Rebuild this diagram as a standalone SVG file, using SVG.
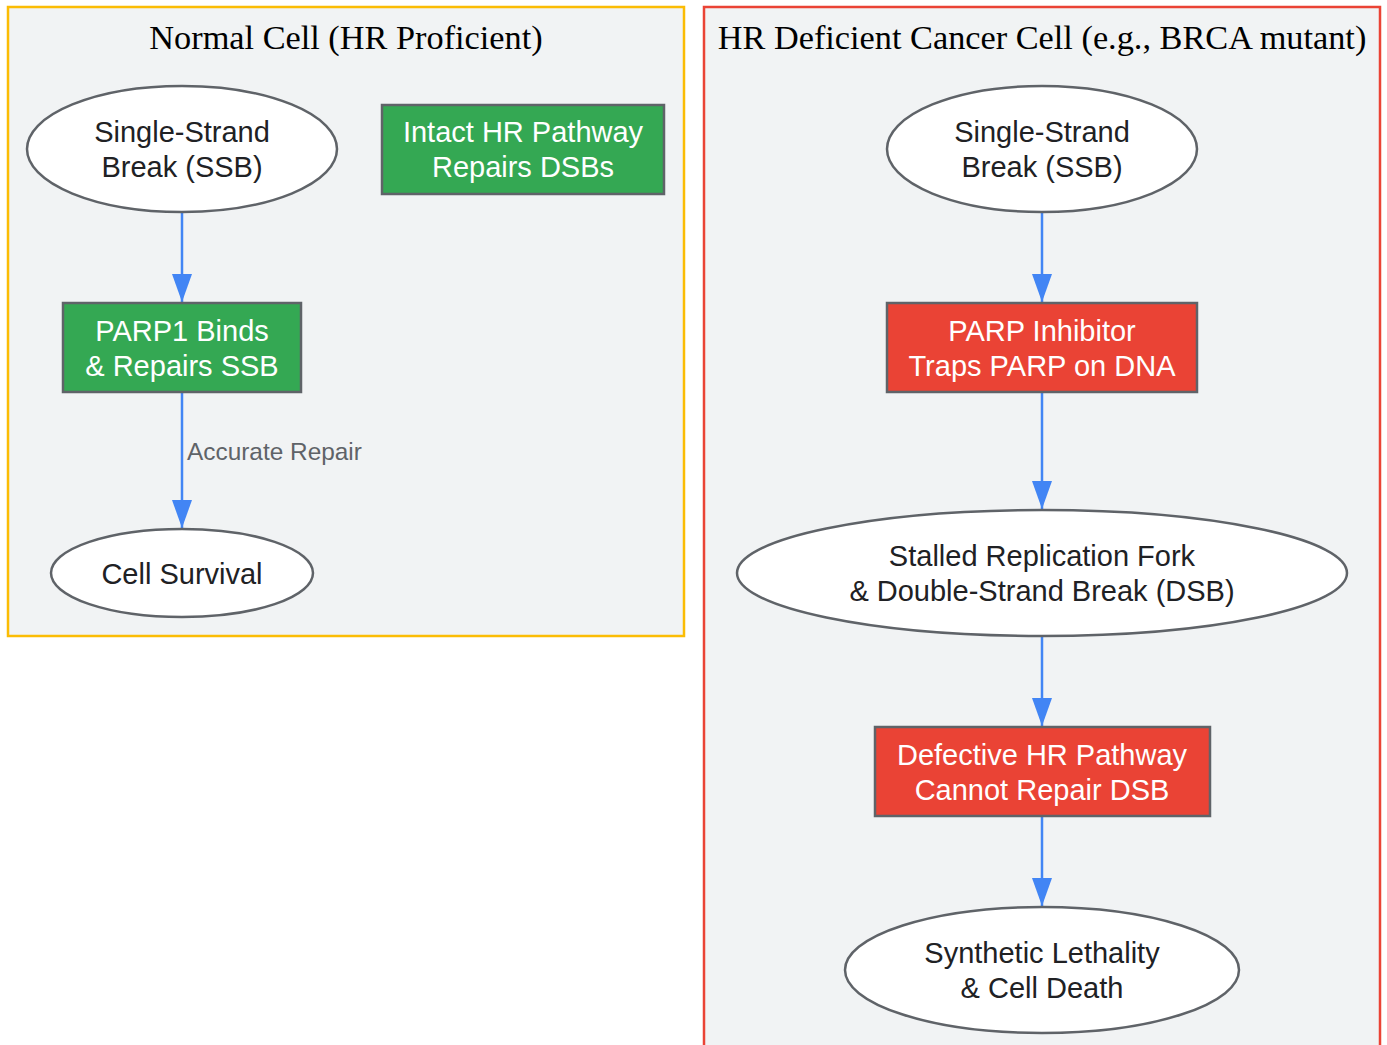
<svg xmlns="http://www.w3.org/2000/svg" width="1387" height="1045" viewBox="0 0 1387 1045">
<style>
.title{font-family:"Liberation Serif","Times New Roman",serif;font-size:34.3px;fill:#000;text-anchor:middle}
.lbl{font-family:"Liberation Sans",Arial,sans-serif;font-size:29px;text-anchor:middle}
.dark{fill:#202124}
.light{fill:#ffffff}
.ell{fill:#ffffff;stroke:#5f6368;stroke-width:2.5}
.green{fill:#34a853;stroke:#5f6368;stroke-width:2.5}
.red{fill:#ea4335;stroke:#5f6368;stroke-width:2.5}
.edge{stroke:#4285f4;stroke-width:2.5;fill:none;marker-end:url(#arr)}
.elbl{font-family:"Liberation Sans",Arial,sans-serif;font-size:24.4px;fill:#5f6368}
</style>
<defs>
<marker id="arr" viewBox="0 0 28 20" refX="28" refY="10" markerWidth="28" markerHeight="20" markerUnits="userSpaceOnUse" orient="auto">
<path d="M0,0 L28,10 L0,20 Z" fill="#4285f4"/>
</marker>
</defs>
<rect width="1387" height="1045" fill="#ffffff"/>
<g id="cluster-normal">
<rect x="8" y="7" width="676" height="629" fill="#f1f3f4" stroke="#fbbc04" stroke-width="2.5"/>
<text class="title" x="346" y="49">Normal Cell (HR Proficient)</text>
</g>
<g id="cluster-cancer">
<rect x="704" y="7" width="676" height="1050" fill="#f1f3f4" stroke="#ea4335" stroke-width="2.5"/>
<text class="title" x="1042" y="49">HR Deficient Cancer Cell (e.g., BRCA mutant)</text>
</g>
<g id="connectors">
<line class="edge" x1="182" y1="212" x2="182" y2="302"/>
<line class="edge" x1="182" y1="392" x2="182" y2="528"/>
<text class="elbl" x="187" y="460">Accurate Repair</text>
<line class="edge" x1="1042" y1="212" x2="1042" y2="302"/>
<line class="edge" x1="1042" y1="392" x2="1042" y2="509"/>
<line class="edge" x1="1042" y1="636" x2="1042" y2="726"/>
<line class="edge" x1="1042" y1="816" x2="1042" y2="906"/>
</g>
<g id="n-ssb-normal">
<ellipse class="ell" cx="182" cy="149" rx="155" ry="63"/>
<text class="lbl dark" x="182" y="142">Single-Strand</text>
<text class="lbl dark" x="182" y="177">Break (SSB)</text>
</g>
<g id="n-hr-intact">
<rect class="green" x="382" y="105" width="282" height="89"/>
<text class="lbl light" x="523" y="142">Intact HR Pathway</text>
<text class="lbl light" x="523" y="177">Repairs DSBs</text>
</g>
<g id="n-parp1">
<rect class="green" x="63" y="303" width="238" height="89"/>
<text class="lbl light" x="182" y="341">PARP1 Binds</text>
<text class="lbl light" x="182" y="376">&amp; Repairs SSB</text>
</g>
<g id="n-survival">
<ellipse class="ell" cx="182" cy="573" rx="131" ry="44"/>
<text class="lbl dark" x="182" y="584">Cell Survival</text>
</g>
<g id="n-ssb-cancer">
<ellipse class="ell" cx="1042" cy="149" rx="155" ry="63"/>
<text class="lbl dark" x="1042" y="142">Single-Strand</text>
<text class="lbl dark" x="1042" y="177">Break (SSB)</text>
</g>
<g id="n-parpi">
<rect class="red" x="887" y="303" width="310" height="89"/>
<text class="lbl light" x="1042" y="341">PARP Inhibitor</text>
<text class="lbl light" x="1042" y="376">Traps PARP on DNA</text>
</g>
<g id="n-stalled">
<ellipse class="ell" cx="1042" cy="573" rx="305" ry="63"/>
<text class="lbl dark" x="1042" y="566">Stalled Replication Fork</text>
<text class="lbl dark" x="1042" y="601">&amp; Double-Strand Break (DSB)</text>
</g>
<g id="n-defective">
<rect class="red" x="875" y="727" width="335" height="89"/>
<text class="lbl light" x="1042" y="765">Defective HR Pathway</text>
<text class="lbl light" x="1042" y="800">Cannot Repair DSB</text>
</g>
<g id="n-lethality">
<ellipse class="ell" cx="1042" cy="970" rx="197" ry="63"/>
<text class="lbl dark" x="1042" y="963">Synthetic Lethality</text>
<text class="lbl dark" x="1042" y="998">&amp; Cell Death</text>
</g>
</svg>
